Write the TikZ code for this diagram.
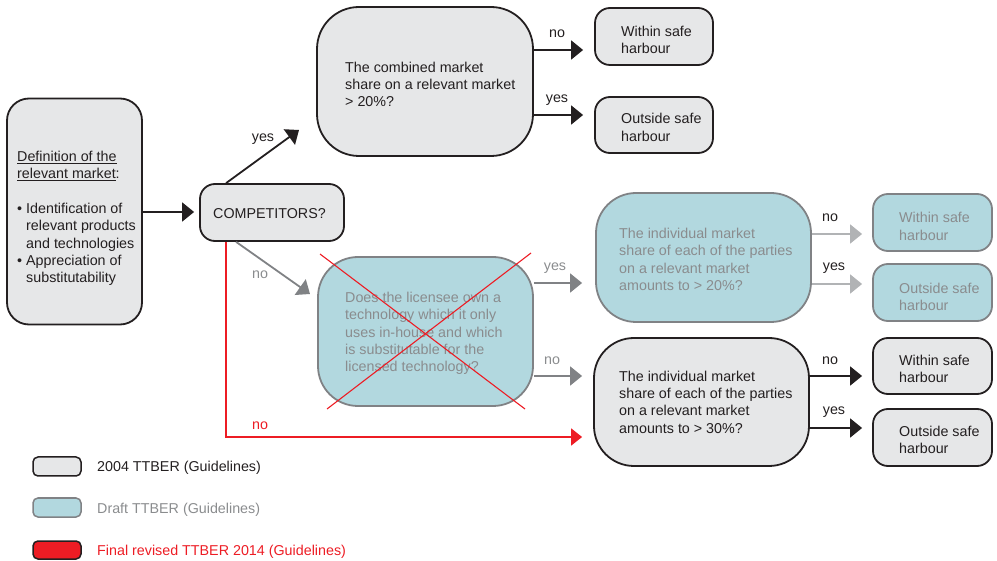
\documentclass[tikz,border=0pt]{standalone}
\usepackage{fontspec}
\setmainfont{Liberation Sans}
\usetikzlibrary{arrows.meta,calc}
\definecolor{boxgray}{HTML}{E6E7E8}
\definecolor{boxblue}{HTML}{B2D8DF}
\definecolor{edgegray}{HTML}{808285}
\definecolor{txtgray}{HTML}{8A8C8E}
\definecolor{lightarr}{HTML}{B1B3B5}
\definecolor{myred}{HTML}{ED1C24}
\definecolor{ink}{HTML}{231F20}
\begin{document}
\begin{tikzpicture}[x=1pt,y=-1pt,
  every node/.style={font=\fontsize{14.3}{17.3}\selectfont},
  gbox/.style={draw=ink, fill=boxgray, line width=1.8pt, inner sep=0pt},
  bbox/.style={draw=edgegray, fill=boxblue, line width=1.8pt, inner sep=0pt},
  txt/.style={anchor=west, align=left, inner sep=0pt, text=ink},
  gtxt/.style={txt, text=txtgray},
  lbl/.style={inner sep=0pt, text=ink},
  glbl/.style={inner sep=0pt, text=txtgray},
  arr/.style={draw=ink, line width=1.8pt, -{Triangle[length=12pt,width=19pt]}},
  garr/.style={draw=edgegray, line width=1.8pt, -{Triangle[length=12pt,width=19pt]}},
  larr/.style={draw=lightarr, line width=1.8pt, -{Triangle[length=12pt,width=19pt]}},
  rarr/.style={draw=myred, line width=1.8pt, -{Triangle[length=11pt,width=17pt]}}
]
\useasboundingbox (0,0) rectangle (997,561);

% boxes
\node[gbox, rounded corners=22pt, minimum width=135pt, minimum height=226pt] (def) at (74.5,211.5) {};
\node[gbox, rounded corners=15pt, minimum width=144pt, minimum height=57pt] (comp) at (272,212.5) {};
\node[gbox, rounded corners=42pt, minimum width=216pt, minimum height=149pt] (comb) at (425,81.5) {};
\node[gbox, rounded corners=15pt, minimum width=118pt, minimum height=57pt] (w1) at (654,36.5) {};
\node[gbox, rounded corners=15pt, minimum width=118pt, minimum height=56pt] (o1) at (654,125) {};
\node[bbox, rounded corners=40pt, minimum width=215pt, minimum height=149pt] (does) at (425.5,331.5) {};
\node[bbox, rounded corners=40pt, minimum width=215pt, minimum height=129pt] (bq) at (703.5,257.5) {};
\node[bbox, rounded corners=15pt, minimum width=119pt, minimum height=57pt] (bw) at (932.5,222.5) {};
\node[bbox, rounded corners=15pt, minimum width=119pt, minimum height=57pt] (bo) at (932.5,292.5) {};
\node[gbox, rounded corners=40pt, minimum width=215pt, minimum height=128pt] (gq) at (701.5,402) {};
\node[gbox, rounded corners=15pt, minimum width=119pt, minimum height=56pt] (gw) at (932.5,366) {};
\node[gbox, rounded corners=15pt, minimum width=119pt, minimum height=57pt] (go) at (932.5,437.5) {};

% texts
\node[txt] (tdef) at (17,218.4) {\underline{Definition of the}\\\underline{relevant market}:\\[17.3pt]%
•\hspace{4pt}Identification of\\\hspace*{9pt}relevant products\\\hspace*{9pt}and technologies\\%
•\hspace{4pt}Appreciation of\\\hspace*{9pt}substitutability};
\node[txt] (tcomp) at (213,214) {COMPETITORS?};
\node[txt] (tcomb) at (345,84.5) {The combined market\\share on a relevant market\\> 20\%?};
\node[txt] (tw1) at (621,39.7) {Within safe\\harbour};
\node[txt] (to1) at (621,127.5) {Outside safe\\harbour};
\node[gtxt] (tdoes) at (345,333.5) {Does the licensee own a\\technology which it only\\uses in-house and which\\is substitutable for the\\licensed technology?};
\node[gtxt] (tbq) at (619,259.5) {The individual market\\share of each of the parties\\on a relevant market\\amounts to > 20\%?};
\node[gtxt] (tbw) at (899,226.5) {Within safe\\harbour};
\node[gtxt] (tbo) at (899,297) {Outside safe\\harbour};
\node[txt] (tgq) at (619,402) {The individual market\\share of each of the parties\\on a relevant market\\amounts to > 30\%?};
\node[txt] (tgw) at (899,369) {Within safe\\harbour};
\node[txt] (tgo) at (899,440) {Outside safe\\harbour};

% red cross
\draw[myred, line width=1.1pt] (320,254) -- (525,409);
\draw[myred, line width=1.1pt] (531,253) -- (327,409);

% row coordinates
\coordinate (rdef) at (0,212);
\coordinate (r1) at (0,50);
\coordinate (r2) at (0,115);
\coordinate (r3) at (0,283);
\coordinate (r4) at (0,376);
\coordinate (r5) at (0,234);
\coordinate (r6) at (0,284);
\coordinate (r8) at (0,428);
\coordinate (rred) at (0,437);
\coordinate (yesend) at (299,130);
\coordinate (noend) at (310,294);

% connectors
\draw[arr, shorten >=5pt] (def.east |- rdef) -- (comp.west |- rdef);
\draw[arr] ($(comp.north west)+(27,0)$) -- (yesend);
\draw[garr] ($(comp.south west)+(37,0)$) -- (noend);
\draw[rarr, shorten >=11pt] ($(comp.south west)+(27,0)$) |- (gq.west |- rred);

\draw[arr, shorten >=11pt] (comb.east |- r1) -- (w1.west |- r1);
\draw[arr, shorten >=11pt] (comb.east |- r2) -- (o1.west |- r2);

\draw[garr, shorten >=13pt] (does.east |- r3) -- (bq.west |- r3);
\draw[garr, shorten >=11pt] (does.east |- r4) -- (gq.west |- r4);

\draw[larr, shorten >=10pt] (bq.east |- r5) -- (bw.west |- r5);
\draw[larr, shorten >=10pt] (bq.east |- r6) -- (bo.west |- r6);

\draw[arr, shorten >=10pt] (gq.east |- r4) -- (gw.west |- r4);
\draw[arr, shorten >=10pt] (gq.east |- r8) -- (go.west |- r8);

% labels
\node[lbl] (lyes1) at (263,139) {yes};
\node[glbl] (lno1) at (260,275) {no};
\node[lbl, text=myred] (lno2) at (260,426) {no};
\node[lbl] (lno3) at (557,34) {no};
\node[lbl] (lyes3) at (557,100) {yes};
\node[glbl] (lyes4) at (555,268) {yes};
\node[glbl] (lno4) at (552,361) {no};
\node[lbl] (lno5) at (830,218) {no};
\node[lbl] (lyes5) at (834,268) {yes};
\node[lbl] (lno6) at (830,361) {no};
\node[lbl] (lyes6) at (834,412) {yes};

% legend
\node[draw=ink, fill=boxgray, line width=1.5pt, rounded corners=5pt, minimum width=48pt, minimum height=19pt, inner sep=0pt] (lg1) at (57,466.5) {};
\node[draw=edgegray, fill=boxblue, line width=1.5pt, rounded corners=5pt, minimum width=48pt, minimum height=19pt, inner sep=0pt] (lg2) at (57,507.5) {};
\node[draw=ink, fill=myred, line width=1.5pt, rounded corners=5pt, minimum width=48pt, minimum height=18pt, inner sep=0pt] (lg3) at (57,550) {};
\node[txt] (lt1) at (97,468) {2004 TTBER (Guidelines)};
\node[gtxt] (lt2) at (97,510) {Draft TTBER (Guidelines)};
\node[txt, text=myred] (lt3) at (97,552) {Final revised TTBER 2014 (Guidelines)};
\end{tikzpicture}
\end{document}
